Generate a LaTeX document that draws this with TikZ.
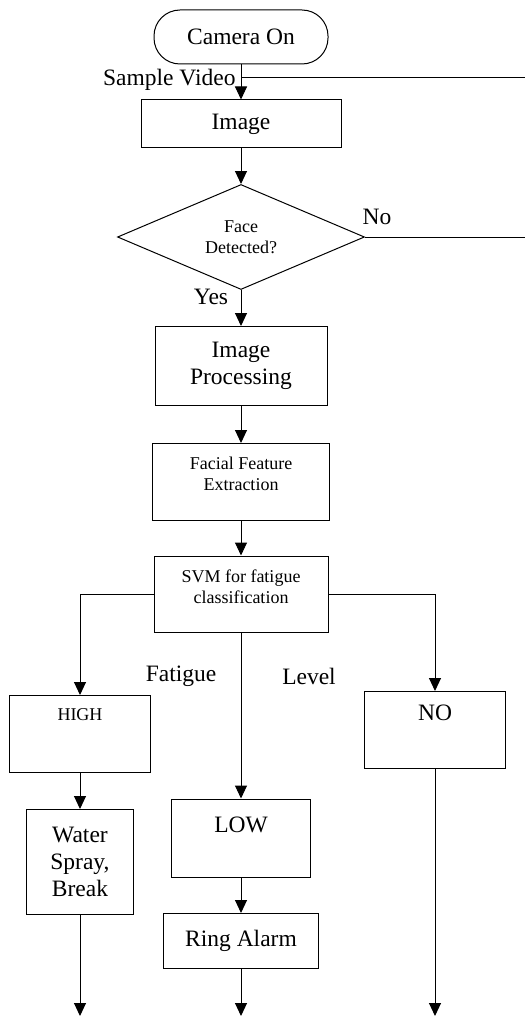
\documentclass[tikz,border=0pt]{standalone}
\usepackage{fontspec}
\setmainfont{Liberation Serif}
\usetikzlibrary{shapes.geometric,arrows.meta}
\begin{document}
\begin{tikzpicture}[x=1pt,y=-1pt,line width=1pt,
  big/.style={font=\fontsize{23.5}{27}\selectfont},
  small/.style={font=\fontsize{18}{21}\selectfont},
  box/.style={draw,rectangle,inner sep=0pt,align=center},
  term/.style={box,rounded corners=26pt},
  decision/.style={draw,diamond,inner sep=0pt,align=center},
  flow/.style={-{Triangle[width=12pt,length=13pt]}}]

\useasboundingbox (0,0) rectangle (525,1016);

\node[term,big,minimum width=174,minimum height=54] (cam) at (241,37) {Camera On};
\node[box,big,minimum width=200,minimum height=48] (img) at (241,124) {Image};
\node[decision,small,minimum width=247,minimum height=103] (face) at (241,237) {Face\\Detected?};
\node[box,big,minimum width=172,minimum height=79] (proc) at (241,366) {Image\\Processing};
\node[box,minimum width=177,minimum height=77,
  label={[small,align=center,anchor=north,inner sep=14pt]north:Facial Feature\\Extraction}] (feat) at (241,482) {};
\node[box,minimum width=174,minimum height=76,
  label={[small,align=center,anchor=north,inner sep=14pt]north:SVM for fatigue\\classification}] (svm) at (241,594) {};

\node[box,minimum width=141,minimum height=77,
  label={[small,anchor=north,inner sep=13.5pt]north:HIGH}] (high) at (80,734) {};
\node[box,minimum width=141,minimum height=77,
  label={[big,anchor=north,inner sep=13.5pt]north:NO}] (no) at (435,730) {};
\node[box,minimum width=139,minimum height=78,
  label={[big,anchor=north,inner sep=18pt]north:LOW}] (low) at (241,838) {};
\node[box,big,minimum width=107,minimum height=105] (water) at (80,862) {Water\\Spray,\\Break};
\node[box,big,minimum width=155,minimum height=55] (ring) at (241,941) {Ring Alarm};

\coordinate (sv) at (241,78);
\coordinate (svE) at (525,78);
\coordinate (noE) at (525,237);
\coordinate (endA) at (80,1016);
\coordinate (endB) at (241,1016);
\coordinate (endC) at (435,1016);

\node[big,anchor=east,inner sep=1pt] (svlab) at (237,80) {Sample Video};
\node[big] (nolab) at (377,217) {No};
\node[big] (yeslab) at (211,297) {Yes};
\node[big] (fatlab) at (181,676) {Fatigue};
\node[big] (levlab) at (309,676) {Level};

\draw[flow] (cam) -- (img);
\draw (sv) -- (svE);
\draw[flow] (img) -- (face);
\draw (face.east) -- (noE);
\draw[flow] (face) -- (proc);
\draw[flow] (proc) -- (feat);
\draw[flow] (feat) -- (svm);
\draw[flow] (svm.west) -| (high.north);
\draw[flow] (svm.east) -| (no.north);
\draw[flow] (svm) -- (low);
\draw[flow] (high) -- (water);
\draw[flow] (low) -- (ring);
\draw[flow] (water) -- (endA);
\draw[flow] (ring) -- (endB);
\draw[flow] (no) -- (endC);

\end{tikzpicture}
\end{document}
